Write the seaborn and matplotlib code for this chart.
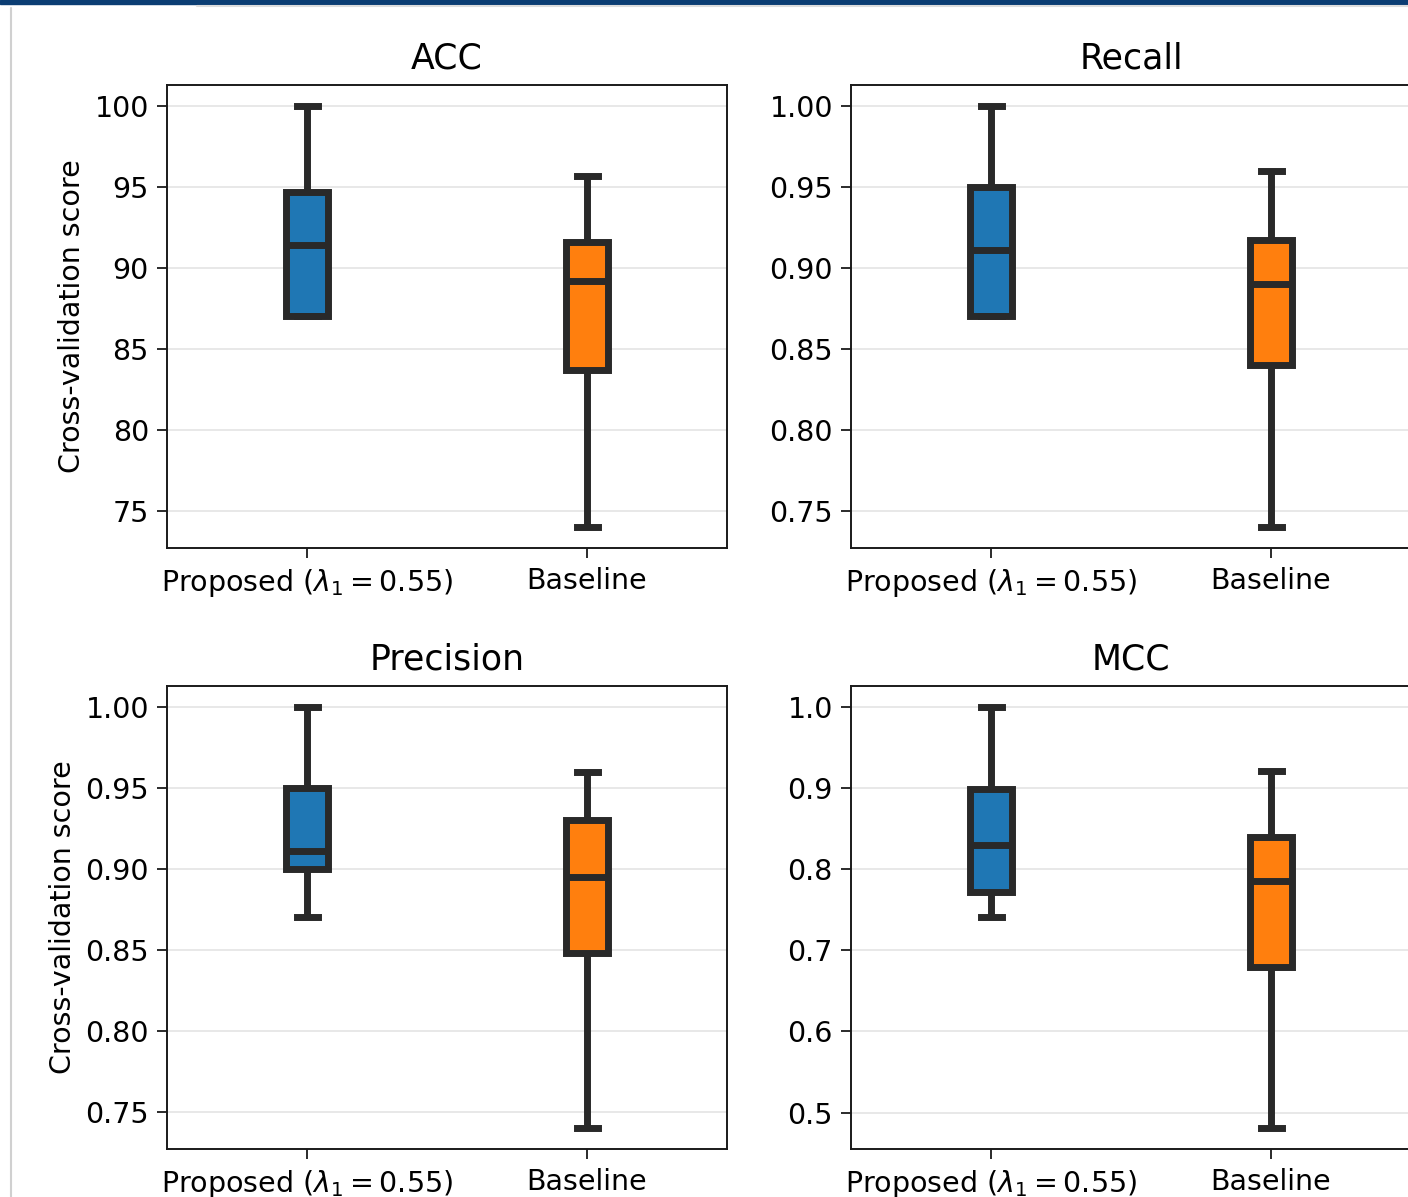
import pandas as pd
import matplotlib.pyplot as plt
import seaborn as sns
from matplotlib.patches import Rectangle
from matplotlib.lines import Line2D

# five-number summaries: min, q1, median, q3, max
methods = [r'Proposed ($\lambda_1 = 0.55$)', 'Baseline']
metrics = ['ACC', 'Recall', 'Precision', 'MCC']

acc_proposed = [87.0, 87.0, 91.4, 94.7, 100.0]
acc_baseline = [74.0, 83.7, 89.2, 91.6, 95.7]
recall_proposed = [0.870, 0.870, 0.911, 0.950, 1.000]
recall_baseline = [0.740, 0.840, 0.890, 0.917, 0.960]
precision_proposed = [0.870, 0.900, 0.911, 0.950, 1.000]
precision_baseline = [0.740, 0.848, 0.895, 0.930, 0.960]
mcc_proposed = [0.741, 0.772, 0.830, 0.899, 1.000]
mcc_baseline = [0.481, 0.680, 0.786, 0.840, 0.921]

colors = ['#1f77b4', '#ff7f0e']


def build_frame():
    """Собираем длинную таблицу для seaborn"""
    values = {
        'ACC': (acc_proposed, acc_baseline),
        'Recall': (recall_proposed, recall_baseline),
        'Precision': (precision_proposed, precision_baseline),
        'MCC': (mcc_proposed, mcc_baseline),
    }
    rows = []
    for metric in metrics:
        for method, vals in zip(methods, values[metric]):
            for v in vals:
                rows.append({'metric': metric, 'method': method, 'score': v})
    return pd.DataFrame(rows)


def plot_boxes():
    sns.set_style('ticks', {
        'axes.grid': True,
        'grid.color': '#e6e6e6',
        'axes.edgecolor': '0.1',
        'text.color': 'black',
        'axes.labelcolor': 'black',
        'xtick.color': 'black',
        'ytick.color': 'black',
    })
    plt.rcParams['font.family'] = ['DejaVu Sans']
    plt.rcParams['mathtext.fontset'] = 'dejavusans'

    data = build_frame()
    fig = plt.figure(figsize=(14.08, 11.97), dpi=100)

    w, h = 560 / 1408, 463 / 1197
    positions = [
        (167 / 1408, 1 - 548 / 1197),
        (851 / 1408, 1 - 548 / 1197),
        (167 / 1408, 1 - 1149 / 1197),
        (851 / 1408, 1 - 1149 / 1197),
    ]

    line_kw = dict(solid_capstyle='projecting')
    for i, metric in enumerate(metrics):
        ax = fig.add_axes([positions[i][0], positions[i][1], w, h])
        sub = data[data['metric'] == metric]
        sns.boxplot(data=sub, x='method', y='score', hue='method',
                    order=methods, hue_order=methods, palette=colors,
                    width=0.15, linewidth=5, linecolor='0.16',
                    saturation=1, whis=(0, 100), legend=False,
                    capprops=line_kw, whiskerprops=dict(solid_capstyle='butt'),
                    medianprops=dict(solid_capstyle='butt'), ax=ax)
        ax.set_title(metric, fontsize=25, pad=12)
        ax.set_xlabel('')
        if i % 2 == 0:
            ax.set_ylabel('Cross-validation score', fontsize=20.5, labelpad=6)
        else:
            ax.set_ylabel('')
        ax.tick_params(labelsize=20.5, length=7, width=1.3, color='0.1')
        ax.tick_params(axis='x', pad=7)
        ax.tick_params(axis='y', pad=6)
        ax.xaxis.grid(False)
        ax.yaxis.grid(True, linewidth=1.3)
        ax.set_axisbelow(True)
        for s in ax.spines.values():
            s.set_linewidth(1.4)

    # обрамление скриншота
    fig.add_artist(Rectangle((0, 1 - 4 / 1197), 1, 4 / 1197,
                             transform=fig.transFigure, color='#0b3d73'))
    fig.add_artist(Line2D([197 / 1408, 1], [1 - 6 / 1197] * 2,
                          transform=fig.transFigure, color='#dddddd', lw=1.5))
    fig.add_artist(Line2D([11 / 1408] * 2, [0, 1 - 8 / 1197],
                          transform=fig.transFigure, color='#d0d0d0', lw=1.5))

    fig.savefig('out.png', dpi=100)


if __name__ == "__main__":
    plot_boxes()
